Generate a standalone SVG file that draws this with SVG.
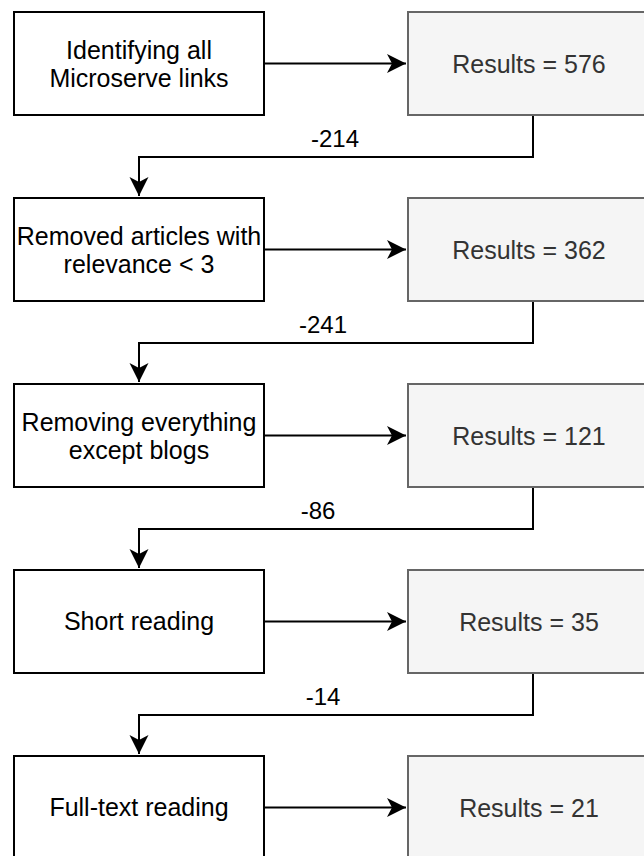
<svg xmlns="http://www.w3.org/2000/svg" width="644" height="856" viewBox="0 0 644 856">
  <style>
    .step rect { fill: #ffffff; stroke: #000000; stroke-width: 2; }
    .result rect { fill: #f5f5f5; stroke: #666666; stroke-width: 2; }
    text { font-family: "Liberation Sans", Arial, Helvetica, sans-serif; font-size: 25px; text-anchor: middle; }
    .step text { fill: #000000; }
    .result text { fill: #333333; }
    .edge { fill: none; stroke: #000000; stroke-width: 2; }
    .lbl { fill: #000000; font-size: 24px; }
  </style>
  <defs>
    <marker id="arrow" viewBox="0 0 20 20" refX="19" refY="10" markerWidth="20" markerHeight="20" markerUnits="userSpaceOnUse" orient="auto">
      <path d="M19,10 L0,0.5 L5,10 L0,19.5 Z" fill="#000000"/>
    </marker>
  </defs>

  <!-- connectors -->
  <g id="connectors">
    <path class="edge" d="M264,63.5 H406" marker-end="url(#arrow)"/>
    <path class="edge" d="M264,249.5 H406" marker-end="url(#arrow)"/>
    <path class="edge" d="M264,435.5 H406" marker-end="url(#arrow)"/>
    <path class="edge" d="M264,621.5 H406" marker-end="url(#arrow)"/>
    <path class="edge" d="M264,807.5 H406" marker-end="url(#arrow)"/>

    <path class="edge" d="M533,115 V157 H139 V196" marker-end="url(#arrow)"/>
    <path class="edge" d="M533,301 V343 H139 V382" marker-end="url(#arrow)"/>
    <path class="edge" d="M533,487 V529 H139 V568" marker-end="url(#arrow)"/>
    <path class="edge" d="M533,673 V715 H139 V754" marker-end="url(#arrow)"/>

    <text class="lbl" x="335" y="147">-214</text>
    <text class="lbl" x="323" y="333">-241</text>
    <text class="lbl" x="318" y="519">-86</text>
    <text class="lbl" x="323" y="705">-14</text>
  </g>

  <!-- process steps -->
  <g id="step1" class="step">
    <rect x="14" y="12" width="250" height="103"/>
    <text x="139" y="59">Identifying all</text>
    <text x="139" y="87">Microserve links</text>
  </g>
  <g id="step2" class="step">
    <rect x="14" y="198" width="250" height="103"/>
    <text x="139" y="245">Removed articles with</text>
    <text x="139" y="273">relevance &lt; 3</text>
  </g>
  <g id="step3" class="step">
    <rect x="14" y="384" width="250" height="103"/>
    <text x="139" y="431">Removing everything</text>
    <text x="139" y="459">except blogs</text>
  </g>
  <g id="step4" class="step">
    <rect x="14" y="570" width="250" height="103"/>
    <text x="139" y="630">Short reading</text>
  </g>
  <g id="step5" class="step">
    <rect x="14" y="756" width="250" height="103"/>
    <text x="139" y="816">Full-text reading</text>
  </g>

  <!-- result counts -->
  <g id="result1" class="result">
    <rect x="408" y="12" width="250" height="103"/>
    <text x="529" y="73">Results = 576</text>
  </g>
  <g id="result2" class="result">
    <rect x="408" y="198" width="250" height="103"/>
    <text x="529" y="259">Results = 362</text>
  </g>
  <g id="result3" class="result">
    <rect x="408" y="384" width="250" height="103"/>
    <text x="529" y="445">Results = 121</text>
  </g>
  <g id="result4" class="result">
    <rect x="408" y="570" width="250" height="103"/>
    <text x="529" y="631">Results = 35</text>
  </g>
  <g id="result5" class="result">
    <rect x="408" y="756" width="250" height="103"/>
    <text x="529" y="817">Results = 21</text>
  </g>
</svg>
